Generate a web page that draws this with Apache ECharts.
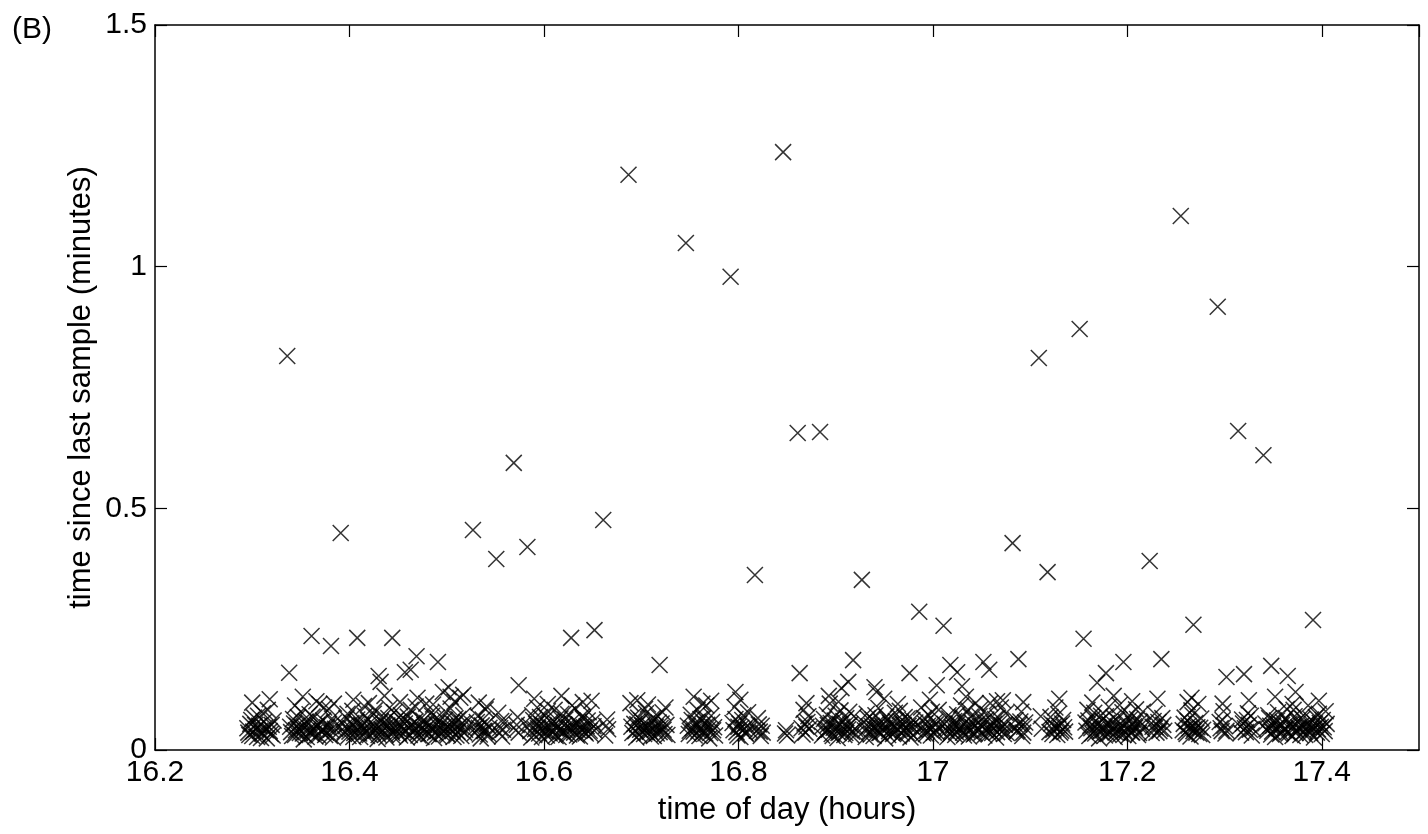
<!DOCTYPE html>
<html>
<head>
<meta charset="utf-8">
<script src="https://cdn.jsdelivr.net/npm/echarts@6/dist/echarts.min.js"></script>
<style>
html,body{margin:0;padding:0;background:#fff;}
#chart{width:1428px;height:834px;}
</style>
</head>
<body>
<div id="chart"></div>
<script>
// x: time of day (hours), y: time since last sample (minutes)
const xTicks = ['16.2','16.4','16.6','16.8','17','17.2','17.4'];
const yTicks = ['0','0.5','1','1.5'];

// dense band of regular samples (first pass read of the band)
const bandSamples = [
[16.295,0.045],[16.297,0.031],[16.299,0.062],[16.301,0.038],[16.303,0.052],[16.305,0.027],[16.306,0.071],[16.308,0.040],[16.310,0.034],[16.312,0.058],[16.313,0.046],[16.315,0.024],[16.316,0.083],[16.318,0.039],[16.320,0.052],[16.321,0.030],
[16.339,0.048],[16.341,0.029],[16.343,0.055],[16.345,0.041],[16.347,0.068],[16.349,0.035],[16.351,0.047],[16.353,0.022],[16.355,0.059],[16.357,0.040],[16.359,0.074],[16.361,0.033],[16.363,0.044],[16.365,0.028],[16.367,0.052],[16.369,0.095],[16.371,0.039],[16.373,0.061],[16.375,0.031],[16.377,0.047],[16.379,0.085],[16.381,0.042],[16.383,0.026],[16.384,0.057],
[16.393,0.054],[16.395,0.038],[16.397,0.066],[16.399,0.029],[16.401,0.046],[16.403,0.081],[16.405,0.035],[16.407,0.058],[16.409,0.042],[16.411,0.027],[16.413,0.050],[16.415,0.091],[16.417,0.037],[16.419,0.062],[16.421,0.031],[16.423,0.048],[16.425,0.075],[16.427,0.040],[16.429,0.023],[16.431,0.056],[16.433,0.043],[16.435,0.068],[16.437,0.032],[16.439,0.051],[16.441,0.087],[16.443,0.039],[16.445,0.028],[16.447,0.060],[16.449,0.045],[16.451,0.034],[16.453,0.072],[16.455,0.041],
[16.457,0.055],[16.459,0.026],[16.461,0.047],[16.463,0.083],[16.465,0.036],[16.467,0.058],[16.469,0.044],[16.471,0.030],[16.473,0.064],[16.475,0.039],[16.477,0.052],[16.479,0.096],[16.481,0.033],[16.483,0.046],[16.485,0.071],[16.487,0.025],[16.489,0.054],[16.491,0.040],[16.493,0.060],[16.495,0.035],[16.497,0.048],[16.499,0.079],[16.501,0.031],[16.503,0.044],[16.505,0.057],[16.507,0.027],[16.509,0.066],[16.511,0.038],[16.513,0.050],[16.515,0.029],[16.517,0.072],[16.519,0.042],
[16.529,0.035],[16.531,0.058],[16.533,0.046],[16.535,0.024],[16.537,0.063],[16.539,0.039],[16.541,0.053],[16.543,0.033],
[16.553,0.077],[16.555,0.045],[16.557,0.028],[16.559,0.059],
[16.571,0.041],[16.573,0.068],[16.574,0.036],
[16.585,0.050],[16.587,0.026],[16.589,0.062],[16.591,0.043],[16.593,0.088],[16.595,0.034],[16.597,0.055],[16.599,0.040],[16.601,0.071],[16.603,0.030],[16.605,0.047],[16.607,0.058],[16.609,0.037],[16.611,0.083],[16.613,0.044],[16.615,0.027],[16.617,0.065],[16.619,0.039],[16.621,0.052],[16.623,0.031],[16.625,0.074],[16.627,0.045],[16.629,0.092],[16.631,0.036],[16.633,0.056],[16.635,0.041],[16.637,0.028],[16.639,0.069],[16.641,0.047],[16.643,0.034],[16.645,0.061],[16.647,0.040],[16.649,0.102],[16.651,0.049],
[16.663,0.030],[16.665,0.063],[16.666,0.043],
[16.689,0.097],[16.691,0.035],[16.693,0.054],[16.695,0.026],[16.697,0.067],[16.699,0.042],[16.701,0.051],[16.703,0.033],[16.705,0.076],[16.707,0.046],[16.709,0.038],[16.711,0.059],[16.713,0.029],[16.715,0.048],[16.717,0.070],[16.719,0.037],[16.721,0.055],[16.723,0.042],[16.725,0.088],[16.727,0.031],
[16.748,0.050],[16.750,0.040],[16.752,0.062],[16.754,0.038],[16.756,0.057],[16.758,0.083],[16.760,0.029],[16.762,0.045],[16.764,0.066],[16.766,0.034],[16.768,0.052],[16.770,0.024],[16.772,0.071],[16.774,0.041],[16.776,0.030],
[16.794,0.056],[16.796,0.089],[16.798,0.037],[16.800,0.048],[16.802,0.027],[16.804,0.062],[16.806,0.043],[16.808,0.033],[16.810,0.078],
[16.819,0.040],[16.821,0.053],[16.823,0.029],[16.825,0.036],
[16.848,0.034],[16.850,0.030],
[16.865,0.045],[16.867,0.083],[16.869,0.036],[16.871,0.058],[16.873,0.044],
[16.886,0.030],[16.888,0.064],[16.890,0.039],[16.892,0.052],[16.894,0.096],[16.896,0.033],[16.898,0.046],[16.900,0.071],[16.902,0.025],[16.904,0.054],[16.906,0.040],[16.908,0.060],[16.910,0.035],[16.912,0.048],[16.914,0.079],[16.916,0.031],[16.920,0.044],
[16.929,0.057],[16.931,0.027],[16.933,0.066],[16.935,0.038],[16.937,0.050],[16.939,0.029],[16.941,0.072],[16.943,0.042],[16.945,0.035],[16.947,0.058],[16.949,0.046],[16.951,0.024],[16.953,0.063],[16.955,0.039],[16.957,0.053],[16.959,0.033],[16.961,0.077],[16.963,0.045],[16.965,0.028],[16.967,0.059],[16.969,0.041],[16.971,0.068],[16.973,0.036],[16.975,0.050],[16.977,0.026],[16.979,0.062],[16.981,0.043],
[16.988,0.088],[16.990,0.034],[16.992,0.055],[16.994,0.040],[16.996,0.071],[16.998,0.030],[17.000,0.047],[17.002,0.058],[17.004,0.037],[17.006,0.083],
[17.013,0.044],[17.015,0.027],[17.017,0.065],[17.019,0.039],[17.021,0.052],[17.023,0.031],[17.025,0.074],[17.027,0.045],[17.029,0.092],[17.031,0.036],[17.033,0.056],[17.035,0.041],[17.037,0.028],[17.039,0.069],[17.041,0.047],[17.043,0.034],[17.045,0.061],[17.047,0.040],[17.049,0.085],[17.051,0.049],[17.053,0.030],[17.055,0.063],[17.057,0.043],[17.059,0.097],[17.061,0.035],[17.063,0.054],[17.065,0.026],[17.067,0.067],[17.069,0.042],[17.071,0.051],[17.073,0.033],[17.075,0.076],
[17.084,0.046],[17.086,0.038],[17.090,0.059],[17.092,0.029],[17.094,0.048],
[17.111,0.070],
[17.120,0.037],[17.122,0.055],[17.124,0.042],[17.126,0.088],[17.128,0.031],[17.130,0.050],[17.132,0.040],[17.134,0.062],[17.136,0.038],
[17.157,0.057],[17.159,0.083],[17.161,0.029],[17.163,0.045],[17.165,0.066],[17.167,0.034],[17.169,0.052],[17.171,0.024],[17.173,0.071],[17.175,0.041],[17.177,0.030],[17.179,0.056],[17.181,0.089],[17.183,0.037],[17.185,0.048],[17.187,0.027],[17.189,0.062],[17.191,0.043],[17.193,0.033],[17.195,0.078],[17.197,0.040],[17.199,0.053],[17.201,0.029],[17.203,0.064],[17.205,0.036],[17.207,0.049],[17.209,0.084],[17.211,0.031],[17.213,0.058],[17.215,0.044],
[17.225,0.035],[17.227,0.060],[17.229,0.047],[17.233,0.039],[17.237,0.052],
[17.257,0.041],[17.259,0.067],[17.261,0.033],[17.263,0.050],[17.265,0.028],[17.267,0.072],[17.269,0.044],[17.271,0.036],[17.273,0.095],[17.275,0.046],[17.277,0.031],
[17.295,0.058],[17.297,0.039],[17.299,0.080],[17.301,0.034],
[17.316,0.049],[17.318,0.063],[17.322,0.037],[17.324,0.076],[17.326,0.042],[17.328,0.030],
[17.342,0.055],[17.344,0.040],[17.346,0.066],[17.348,0.032],[17.350,0.050],[17.352,0.027],[17.354,0.061],[17.356,0.045],[17.358,0.036],[17.360,0.058],[17.362,0.043],[17.364,0.085],[17.366,0.034],[17.368,0.052],[17.370,0.029],[17.372,0.070],[17.374,0.041],[17.376,0.047],[17.378,0.031],[17.380,0.064],[17.382,0.038],[17.384,0.053],[17.386,0.092],[17.388,0.035],[17.390,0.049],[17.392,0.026],[17.394,0.068],[17.396,0.043],[17.398,0.056],[17.400,0.033],[17.402,0.047],[17.404,0.080]
];

// dense band of regular samples (second pass, between the first-pass ones)
const bandSamples2 = [
[16.296,0.036],[16.298,0.054],[16.300,0.029],[16.302,0.067],[16.304,0.043],[16.307,0.050],[16.309,0.025],[16.311,0.076],[16.314,0.041],[16.317,0.048],[16.319,0.033],[16.322,0.061],
[16.340,0.037],[16.342,0.064],[16.344,0.031],[16.346,0.050],[16.348,0.043],[16.350,0.079],[16.352,0.034],[16.354,0.046],[16.356,0.027],[16.358,0.057],[16.360,0.040],[16.362,0.069],[16.364,0.035],[16.366,0.048],[16.368,0.030],[16.370,0.058],[16.372,0.043],[16.374,0.088],[16.376,0.036],[16.378,0.052],[16.380,0.029],[16.382,0.065],[16.385,0.044],
[16.394,0.033],[16.396,0.049],[16.398,0.075],[16.400,0.038],[16.402,0.056],[16.404,0.027],[16.406,0.045],[16.408,0.063],[16.410,0.034],[16.412,0.052],[16.414,0.040],[16.416,0.071],[16.418,0.029],[16.420,0.047],[16.422,0.058],[16.424,0.036],[16.426,0.082],[16.428,0.044],[16.430,0.031],[16.432,0.060],[16.434,0.039],[16.436,0.053],[16.438,0.026],[16.440,0.066],[16.442,0.046],[16.444,0.035],[16.446,0.078],[16.448,0.041],[16.450,0.057],[16.452,0.030],[16.454,0.049],[16.456,0.064],
[16.458,0.038],[16.460,0.069],[16.462,0.031],[16.464,0.052],[16.466,0.044],[16.468,0.090],[16.470,0.035],[16.472,0.049],[16.474,0.027],[16.476,0.061],[16.478,0.042],[16.480,0.056],[16.482,0.033],[16.484,0.077],[16.486,0.045],[16.488,0.036],[16.490,0.067],[16.492,0.028],[16.494,0.051],[16.496,0.040],[16.498,0.062],[16.500,0.034],[16.502,0.047],[16.504,0.086],[16.506,0.039],[16.508,0.053],[16.510,0.030],[16.512,0.064],[16.514,0.043],[16.516,0.055],[16.518,0.036],[16.520,0.058],
[16.530,0.047],[16.532,0.070],[16.534,0.032],[16.536,0.051],[16.538,0.040],[16.540,0.084],[16.542,0.028],[16.544,0.046],
[16.554,0.036],[16.556,0.060],[16.558,0.042],
[16.572,0.052],
[16.586,0.039],[16.588,0.072],[16.590,0.031],[16.592,0.054],[16.594,0.045],[16.596,0.068],[16.598,0.027],[16.600,0.050],[16.602,0.038],[16.604,0.080],[16.606,0.034],[16.608,0.046],[16.610,0.059],[16.612,0.029],[16.614,0.052],[16.616,0.041],[16.618,0.075],[16.620,0.035],[16.622,0.063],[16.624,0.044],[16.626,0.032],[16.628,0.057],[16.630,0.047],[16.632,0.086],[16.634,0.030],[16.636,0.053],[16.638,0.042],[16.640,0.065],[16.642,0.037],[16.644,0.049],[16.646,0.078],[16.648,0.033],[16.650,0.058],[16.652,0.040],
[16.664,0.050],
[16.690,0.048],[16.692,0.070],[16.694,0.039],[16.696,0.053],[16.698,0.031],[16.700,0.061],[16.702,0.044],[16.704,0.085],[16.706,0.036],[16.708,0.050],[16.710,0.028],[16.712,0.066],[16.714,0.042],[16.716,0.034],[16.718,0.057],[16.720,0.046],[16.722,0.078],[16.724,0.033],[16.726,0.052],
[16.749,0.033],[16.751,0.073],[16.753,0.045],[16.755,0.030],[16.757,0.049],[16.759,0.040],[16.761,0.064],[16.763,0.036],[16.765,0.055],[16.767,0.092],[16.769,0.043],[16.771,0.035],[16.773,0.058],[16.775,0.047],
[16.795,0.041],[16.797,0.064],[16.799,0.030],[16.801,0.055],[16.803,0.046],[16.805,0.072],[16.807,0.035],[16.809,0.050],[16.811,0.042],
[16.820,0.066],[16.822,0.038],[16.824,0.050],
[16.849,0.041],
[16.866,0.032],[16.868,0.055],[16.870,0.048],[16.872,0.070],
[16.887,0.050],[16.889,0.037],[16.891,0.073],[16.893,0.042],[16.895,0.056],[16.897,0.029],[16.899,0.061],[16.901,0.045],[16.903,0.035],[16.905,0.082],[16.907,0.048],[16.909,0.031],[16.911,0.066],[16.913,0.043],[16.915,0.053],[16.917,0.038],[16.919,0.070],[16.921,0.033],
[16.930,0.041],[16.932,0.075],[16.934,0.049],[16.936,0.032],[16.938,0.063],[16.940,0.044],[16.942,0.054],[16.944,0.087],[16.946,0.036],[16.948,0.050],[16.950,0.040],[16.952,0.069],[16.954,0.031],[16.956,0.056],[16.958,0.046],[16.960,0.035],[16.962,0.060],[16.964,0.042],[16.966,0.081],[16.968,0.034],[16.970,0.052],[16.972,0.045],[16.974,0.065],[16.976,0.038],[16.978,0.049],[16.980,0.030],[16.982,0.057],
[16.989,0.045],[16.991,0.066],[16.993,0.033],[16.995,0.050],[16.997,0.042],[16.999,0.079],[17.001,0.036],[17.003,0.053],[17.005,0.046],
[17.012,0.054],[17.014,0.040],[17.016,0.072],[17.018,0.033],[17.020,0.047],[17.022,0.060],[17.024,0.037],[17.026,0.055],[17.028,0.043],[17.030,0.068],[17.032,0.030],[17.034,0.049],[17.036,0.083],[17.038,0.040],[17.040,0.057],[17.042,0.032],[17.044,0.051],[17.046,0.044],[17.048,0.070],[17.050,0.036],[17.052,0.058],[17.054,0.041],[17.056,0.075],[17.058,0.034],[17.060,0.050],[17.062,0.045],[17.064,0.064],[17.066,0.037],[17.068,0.055],[17.070,0.088],[17.072,0.040],[17.074,0.052],[17.076,0.035],
[17.085,0.062],[17.087,0.041],[17.089,0.053],[17.091,0.079],[17.093,0.036],[17.095,0.057],
[17.112,0.044],
[17.121,0.068],[17.123,0.033],[17.125,0.050],[17.127,0.045],[17.129,0.074],[17.131,0.036],[17.133,0.055],[17.135,0.047],
[17.158,0.040],[17.160,0.061],[17.162,0.050],[17.164,0.034],[17.166,0.077],[17.168,0.043],[17.170,0.055],[17.172,0.038],[17.174,0.062],[17.176,0.046],[17.178,0.070],[17.180,0.033],[17.182,0.052],[17.184,0.041],[17.186,0.067],[17.188,0.036],[17.190,0.049],[17.192,0.093],[17.194,0.045],[17.196,0.031],[17.198,0.059],[17.200,0.042],[17.202,0.072],[17.204,0.037],[17.206,0.054],[17.208,0.046],[17.210,0.064],[17.212,0.035],[17.214,0.051],[17.216,0.079],
[17.226,0.048],[17.228,0.075],[17.230,0.036],[17.232,0.058],[17.234,0.044],[17.236,0.066],[17.238,0.040],
[17.258,0.054],[17.260,0.037],[17.262,0.060],[17.264,0.045],[17.266,0.082],[17.268,0.039],[17.270,0.056],[17.272,0.047],[17.274,0.033],[17.276,0.065],[17.278,0.042],
[17.296,0.045],[17.298,0.062],[17.300,0.050],[17.302,0.040],
[17.317,0.036],[17.319,0.055],[17.321,0.045],[17.323,0.062],[17.325,0.052],[17.327,0.071],[17.329,0.044],
[17.343,0.043],[17.345,0.072],[17.347,0.050],[17.349,0.038],[17.351,0.061],[17.353,0.045],[17.355,0.078],[17.357,0.033],[17.359,0.052],[17.361,0.041],[17.363,0.066],[17.365,0.037],[17.367,0.055],[17.369,0.046],[17.371,0.083],[17.373,0.035],[17.375,0.059],[17.377,0.043],[17.379,0.050],[17.381,0.072],[17.383,0.031],[17.385,0.048],[17.387,0.040],[17.389,0.063],[17.391,0.044],[17.393,0.055],[17.395,0.036],[17.397,0.075],[17.399,0.048],[17.401,0.062],[17.403,0.039],[17.405,0.054]
];

// slightly longer intervals on the ragged top edge of the band
const bandUpper = [
[16.300,0.098],[16.318,0.105],[16.344,0.092],[16.352,0.110],[16.366,0.101],[16.384,0.096],[16.404,0.104],[16.420,0.097],[16.436,0.112],[16.452,0.099],[16.470,0.108],[16.486,0.094],[16.508,0.100],[16.533,0.098],[16.541,0.090],[16.590,0.106],[16.604,0.095],[16.618,0.112],[16.640,0.099],[16.696,0.103],[16.707,0.094],[16.754,0.110],[16.763,0.096],[16.772,0.102],[16.802,0.104],[16.870,0.097],[16.893,0.112],[16.903,0.100],[16.950,0.106],[16.964,0.095],[16.997,0.104],[17.034,0.110],[17.044,0.097],[17.066,0.101],[17.093,0.099],[17.130,0.106],[17.164,0.098],[17.186,0.112],[17.205,0.101],[17.266,0.108],[17.298,0.096],[17.325,0.103],[17.352,0.110],[17.370,0.095],[17.397,0.102]
];

// longer gaps between samples
const gapSamples = [
[16.336,0.815],[16.338,0.160],[16.361,0.236],[16.381,0.215],[16.391,0.449],[16.408,0.232],[16.430,0.153],[16.432,0.141],[16.444,0.232],[16.457,0.161],[16.463,0.166],[16.469,0.194],[16.491,0.182],[16.496,0.120],[16.502,0.130],[16.504,0.110],[16.514,0.108],[16.517,0.114],
[16.527,0.455],[16.551,0.395],[16.569,0.594],[16.574,0.134],[16.583,0.420],[16.628,0.232],[16.652,0.248],[16.661,0.476],[16.687,1.190],[16.719,0.176],[16.746,1.049],[16.792,0.979],[16.797,0.120],[16.817,0.362],[16.846,1.237],[16.861,0.656],[16.863,0.159],[16.884,0.658],[16.906,0.128],[16.913,0.141],[16.918,0.186],[16.927,0.352],[16.940,0.130],[16.942,0.120],[16.976,0.159],[16.986,0.286],
[17.004,0.134],[17.011,0.257],[17.018,0.176],[17.025,0.161],[17.030,0.132],[17.052,0.182],[17.058,0.166],[17.072,0.103],[17.082,0.428],[17.088,0.188],[17.109,0.811],[17.118,0.368],[17.151,0.871],[17.155,0.230],[17.169,0.139],[17.178,0.159],[17.196,0.182],[17.223,0.391],[17.231,0.106],[17.235,0.188],[17.255,1.105],[17.262,0.099],[17.268,0.259],[17.293,0.917],[17.302,0.151],[17.314,0.660],[17.320,0.157],[17.340,0.610],[17.348,0.174],[17.365,0.153],[17.373,0.120],[17.391,0.269]
];

const FONT = '"Liberation Sans", Arial, Helvetica, sans-serif';
const chart = echarts.init(document.getElementById('chart'), null, {renderer: 'canvas'});
const xMark = 'path://M0,0L10,10M10,0L0,10';
function markerStyle() { return {color: 'none', borderColor: '#000', borderWidth: 1.5}; }
function tickStyle() { return {show: true, inside: true, length: 12, lineStyle: {color: '#000', width: 1.2}}; }
function lineStyle() { return {show: true, onZero: false, lineStyle: {color: '#000', width: 1.5}}; }
function scatter(data) {
  return {type: 'scatter', data: data, symbol: xMark, symbolSize: 16,
    itemStyle: markerStyle(), emphasis: {disabled: true}, silent: true, large: false};
}

chart.setOption({
  animation: false,
  backgroundColor: '#fff',
  title: {text: '(B)', left: 7, top: 10, textStyle: {fontFamily: FONT, fontSize: 30, fontWeight: 'normal', color: '#000'}},
  grid: {left: 155, right: 9, top: 25, bottom: 84},
  xAxis: [{
    type: 'value', min: 16.2, max: 17.5, interval: 0.2, position: 'bottom',
    name: 'time of day (hours)', nameLocation: 'middle', nameGap: 45, nameMoveOverlap: false,
    nameTextStyle: {fontFamily: FONT, fontSize: 31, color: '#000'},
    axisLine: lineStyle(), axisTick: tickStyle(), splitLine: {show: false},
    axisLabel: {fontFamily: FONT, fontSize: 30, color: '#000', margin: 8, showMaxLabel: false,
      formatter: function (v) { const i = Math.round((v - 16.2) / 0.2); return xTicks[i] !== undefined && Math.abs(v - (16.2 + i * 0.2)) < 1e-6 ? xTicks[i] : ''; }}
  }, {
    type: 'value', min: 16.2, max: 17.5, interval: 0.2, position: 'top',
    axisLine: lineStyle(), axisTick: tickStyle(), axisLabel: {show: false}, splitLine: {show: false}
  }],
  yAxis: [{
    type: 'value', min: 0, max: 1.5, interval: 0.5, position: 'left',
    name: 'time since last sample (minutes)', nameLocation: 'middle', nameGap: 58, nameMoveOverlap: false,
    nameTextStyle: {fontFamily: FONT, fontSize: 31, color: '#000'},
    axisLine: lineStyle(), axisTick: tickStyle(), splitLine: {show: false},
    axisLabel: {fontFamily: FONT, fontSize: 30, color: '#000', margin: 8,
      formatter: function (v) { const i = Math.round(v / 0.5); return yTicks[i] !== undefined ? yTicks[i] : ''; }}
  }, {
    type: 'value', min: 0, max: 1.5, interval: 0.5, position: 'right',
    axisLine: lineStyle(), axisTick: tickStyle(), axisLabel: {show: false}, splitLine: {show: false}
  }],
  series: [scatter(bandSamples), scatter(bandSamples2), scatter(bandUpper), scatter(gapSamples)]
});
</script>
</body>
</html>
